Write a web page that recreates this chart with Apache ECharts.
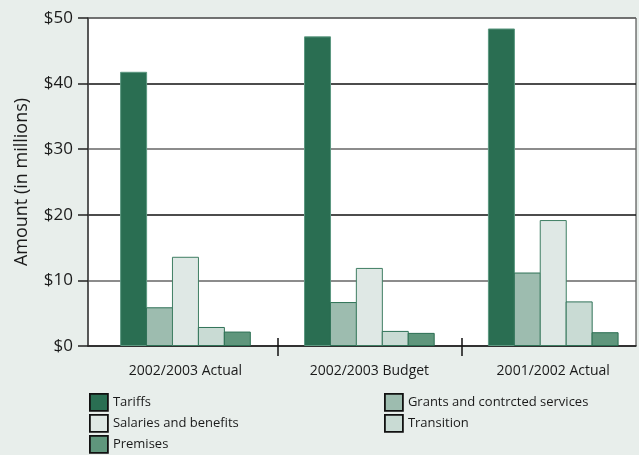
<!DOCTYPE html>
<html>
<head>
<meta charset="utf-8">
<script src="https://cdn.jsdelivr.net/npm/echarts@6/dist/echarts.min.js"></script>
<style>
  html, body { margin: 0; padding: 0; background: #e8eeeb; }
  #chart { width: 639px; height: 455px; }
</style>
</head>
<body>
<div id="chart"></div>
<script>
/* categories and values (millions of dollars) */
const categories = ['2002/2003 Actual', '2002/2003 Budget', '2001/2002 Actual'];
const tariffs = [41.8, 47.2, 48.4];
const grants = [5.9, 6.7, 11.2];
const salaries = [13.6, 11.9, 19.2];
const transition = [2.9, 2.3, 6.8];
const premises = [2.2, 2.0, 2.1];
const yTicks = ['$0', '$10', '$20', '$30', '$40', '$50'];

const FONT = '"Open Sans", "Noto Sans", sans-serif';

/* fill + border per series */
const styles = {
  'Tariffs': { color: '#2a6e52', borderColor: '#5c9880' },
  'Grants and contrcted services': { color: '#9dbcaf', borderColor: '#2f7257' },
  'Salaries and benefits': { color: '#dfe8e5', borderColor: '#3f7e63' },
  'Transition': { color: '#c9dbd4', borderColor: '#2f7257' },
  'Premises': { color: '#5f967c', borderColor: '#2a6e52' },
};

/* categories sit on a value axis (index units) so the groups can be placed like the original */
function bar(name, values) {
  return {
    name, type: 'bar',
    data: values.map((v, i) => [i, v]),
    barWidth: 27, barGap: '-4%',
    itemStyle: { color: styles[name].color, borderColor: styles[name].borderColor, borderWidth: 1 },
    emphasis: { disabled: true },
  };
}

const chart = echarts.init(document.getElementById('chart'), null, { renderer: 'canvas' });

/* one legend per entry, two columns like the original */
function legendItem(name, left, top) {
  return {
    data: [name], left, top,
    padding: 0,
    itemWidth: 18, itemHeight: 17,
    icon: 'rect',
    textStyle: { fontFamily: FONT, fontSize: 13, color: '#1a1a1a' },
    itemStyle: { borderColor: '#111', borderWidth: 1.8 },
    selectedMode: false,
  };
}

const X_MIN = -0.53, X_MAX = 2.45;

chart.setOption({
  backgroundColor: '#e8eeeb',
  animation: false,
  grid: { left: 88, right: 3, top: 18, bottom: 109, show: true, backgroundColor: '#ffffff', borderColor: '#333', borderWidth: 1 },
  legend: [
    legendItem('Tariffs', 89, 393),
    legendItem('Salaries and benefits', 89, 414),
    legendItem('Premises', 89, 435),
    legendItem('Grants and contrcted services', 384, 393),
    legendItem('Transition', 384, 414),
  ],
  xAxis: [
    {
      type: 'value', min: X_MIN, max: X_MAX,
      splitLine: { show: false },
      axisLine: { show: true, onZero: false, lineStyle: { color: '#222', width: 1.5 } },
      axisTick: { show: true, length: 10, customValues: [0.5, 1.5], lineStyle: { color: '#111', width: 1.5 } },
      axisLabel: {
        fontFamily: FONT, fontSize: 14, color: '#1a1a1a', margin: 18,
        customValues: [0, 1, 2],
        formatter: (v) => categories[Math.round(v)],
      },
    },
    {
      type: 'value', min: X_MIN, max: X_MAX, position: 'bottom',
      splitLine: { show: false },
      axisLine: { show: false, onZero: false },
      axisTick: { show: true, inside: true, length: 8, customValues: [0.5, 1.5], lineStyle: { color: '#111', width: 1.5 } },
      axisLabel: { show: false },
    },
  ],
  yAxis: {
    type: 'value', min: 0, max: 50, interval: 10,
    name: 'Amount (in millions)', nameLocation: 'middle', nameGap: 57,
    nameTextStyle: { fontFamily: FONT, fontSize: 18, color: '#1a1a1a' },
    axisLine: { show: true, onZero: false, lineStyle: { color: '#444', width: 1.5 } },
    axisTick: { show: true, length: 10, lineStyle: { color: '#222', width: 1.5 } },
    axisLabel: {
      fontFamily: FONT, fontSize: 17, color: '#1a1a1a', margin: 15,
      formatter: (v) => yTicks[Math.round(v / 10)],
    },
    splitLine: { show: true, lineStyle: { color: ['#555', '#666', '#111', '#666', '#111', '#666'], width: 1.5 } },
  },
  series: [
    bar('Tariffs', tariffs),
    bar('Grants and contrcted services', grants),
    bar('Salaries and benefits', salaries),
    bar('Transition', transition),
    bar('Premises', premises),
  ],
});
</script>
</body>
</html>
